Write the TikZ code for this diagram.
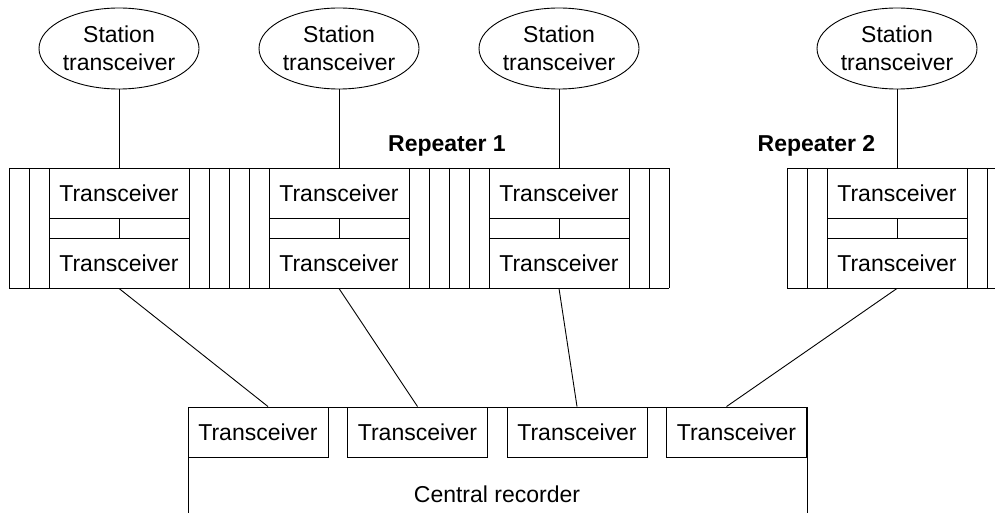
\documentclass[tikz,border=0pt]{standalone}
\usepackage{fontspec}
\setmainfont{Liberation Sans}
\usetikzlibrary{shapes.geometric}

\begin{document}
\begin{tikzpicture}[
        x=1pt, y=-1pt,
        line width=0.9pt,
        station/.style={
            draw,
            ellipse,
            minimum width=160pt,
            minimum height=81pt,
            inner sep=0pt,
            align=center,
            font=\fontsize{23}{28}\selectfont
        },
        transceiver/.style={
            draw,
            rectangle,
            minimum width=140pt,
            minimum height=50pt,
            inner sep=0pt,
            font=\fontsize{23}{28}\selectfont
        },
        reptext/.style={
            anchor=base,
            font=\fontsize{23}{28}\selectfont\bfseries
        },
        plaintext/.style={
            anchor=base,
            font=\fontsize{23}{28}\selectfont
        }
    ]

    \useasboundingbox (0,0) rectangle (995,513);
    \clip (0,0) rectangle (995,513);

    % repeater frames
    \draw (9,168) -- (669,168) (9,288) -- (669,288);
    \draw (787,168) -- (1007,168) (787,288) -- (1007,288);
    \foreach \x in {9,229,449,787} {
        \foreach \d in {0,20,40,180,200,220}
            \draw (\x+\d,168) -- (\x+\d,288);
    }

    \foreach \x/\n in {9/1,229/2,449/3,787/4} {
        \node[station] (st\n) at (\x+110,48.5) {Station\\transceiver};
        \node[transceiver] (up\n) at (\x+110,193) {Transceiver};
        \node[transceiver] (lo\n) at (\x+110,263) {Transceiver};
        \draw (st\n) -- (up\n);
        \draw (up\n) -- (lo\n);
    }

    \node[reptext] (rep1) at (447,152) {Repeater 1};
    \node[reptext] (rep2) at (816.5,152) {Repeater 2};

    % central recorder
    \node[draw, minimum width=618.5pt, minimum height=130pt, anchor=north west, inner sep=0pt] (rec) at (188,407) {};
    \node[plaintext] (rectext) at (497,502) {Central recorder};
    \foreach \x/\n in {188/1,347.5/2,507/3,666.5/4}
        \node[transceiver] (ct\n) at (\x+70,432) {Transceiver};

    \draw (lo1.south) -- ([xshift=10pt]ct1.north);
    \draw (lo2.south) -- (ct2.north);
    \draw (lo3.south) -- (ct3.north);
    \draw (lo4.south) -- ([xshift=-10pt]ct4.north);

\end{tikzpicture}
\end{document}
